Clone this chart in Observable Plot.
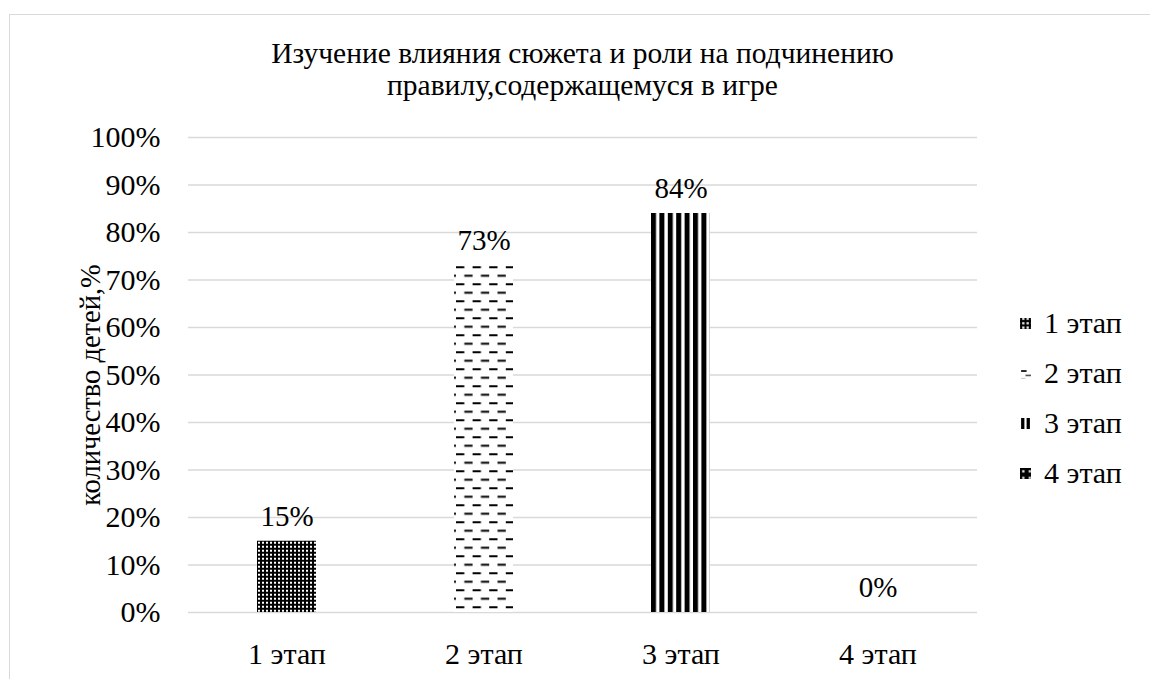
<!DOCTYPE html>
<html>
<head>
<meta charset="utf-8">
<script src="https://cdn.jsdelivr.net/npm/d3@7"></script>
<script src="https://cdn.jsdelivr.net/npm/@observablehq/plot@0.6"></script>
<style>
  html, body { margin: 0; padding: 0; background: #fff; }
  body { width: 1150px; height: 679px; position: relative; overflow: hidden; font-family: "Liberation Serif", "DejaVu Serif", serif; color: #000; }
  #frame { position: absolute; left: 9px; top: 14px; width: 1200px; height: 700px; border: 1.5px solid #d9d9d9; box-sizing: border-box; }
  #title { position: absolute; left: 168px; top: 0; width: 829px; text-align: center; font-size: 29.5px; line-height: 32px; padding-top: 37px; }
  #chart { position: absolute; left: 0; top: 110px; }
  #legend { position: absolute; left: 1020px; top: 0; font-size: 30px; }
  .item { position: absolute; left: 0; white-space: nowrap; display: flex; align-items: center; }
  .item svg { width: 11px; height: 11px; margin-right: 13px; }
</style>
</head>
<body>
<svg width="0" height="0" style="position:absolute">
  <defs>
    <pattern id="p1" patternUnits="userSpaceOnUse" width="4" height="4">
      <rect width="4" height="4" fill="#000"/>
      <rect x="1" y="1" width="2" height="2" fill="#fff"/>
    </pattern>
    <pattern id="p2" patternUnits="userSpaceOnUse" width="16.6" height="17">
      <rect width="16.6" height="17" fill="#fff"/>
      <rect x="0" y="0" width="8.3" height="2" fill="#000"/>
      <rect x="8.3" y="8.5" width="8.3" height="2" fill="#000"/>
    </pattern>
    <pattern id="p3" patternUnits="userSpaceOnUse" width="8.4" height="10">
      <rect width="8.4" height="10" fill="#fff"/>
      <rect x="0" y="0" width="5" height="10" fill="#000"/>
    </pattern>
    <pattern id="p4" patternUnits="userSpaceOnUse" width="6" height="6">
      <rect width="6" height="6" fill="#000"/>
      <rect x="2" y="2" width="2" height="2" fill="#fff"/>
    </pattern>
    <pattern id="l2" patternUnits="userSpaceOnUse" width="10" height="10">
      <rect width="10" height="10" fill="#fff"/>
      <rect x="1" y="2" width="5" height="1.5" fill="#000"/>
      <rect x="5" y="6" width="5" height="1.5" fill="#555"/>
      <rect x="1" y="9" width="4" height="1" fill="#ccc"/>
    </pattern>
    <pattern id="l3" patternUnits="userSpaceOnUse" width="10" height="10">
      <rect width="10" height="10" fill="#fff"/>
      <rect x="1" y="0" width="3" height="10" fill="#000"/>
      <rect x="6" y="0" width="3" height="10" fill="#000"/>
    </pattern>
  </defs>
</svg>
<div id="frame"></div>
<div id="title">Изучение влияния сюжета и роли на подчинению<br>правилу,содержащемуся в игре</div>
<div id="chart"></div>
<div id="legend"></div>
<script>
const categories = ["1 этап", "2 этап", "3 этап", "4 этап"];
const values = [0.15, 0.73, 0.84, 0];
const patterns = ["url(#p1)", "url(#p2)", "url(#p3)", "url(#p4)"];
const legendPatterns = ["url(#p1)", "url(#l2)", "url(#l3)", "url(#p4)"];
const yTicks = [0, 0.1, 0.2, 0.3, 0.4, 0.5, 0.6, 0.7, 0.8, 0.9, 1.0];
const yLabel = "количество детей,%";

const data = categories.map((c, i) => ({category: c, value: values[i], pattern: patterns[i]}));
const pct = d3.format(".0%");

const chart = Plot.plot({
  width: 1150,
  height: 569,
  marginLeft: 188,
  marginRight: 173,
  marginTop: 27,
  marginBottom: 67,
  style: {fontFamily: "'Liberation Serif', 'DejaVu Serif', serif", fontSize: "30px", color: "#000", background: "transparent", overflow: "visible"},
  x: {domain: categories, paddingInner: 0.7, paddingOuter: 0.35, label: null},
  y: {domain: [0, 1], label: null},
  color: {type: "identity"},
  marks: [
    Plot.ruleY(yTicks, {stroke: "#d9d9d9", strokeWidth: 1.5}),
    Plot.barY(data, {x: "category", y: "value", fill: "pattern"}),
    Plot.text(data, {x: "category", y: "value", text: d => pct(d.value), dy: -25, fontSize: 29}),
    Plot.axisX({tickSize: 0, tickPadding: 30, label: null}),
    Plot.axisY({ticks: yTicks, tickFormat: pct, tickSize: 0, tickPadding: 28, label: null}),
    Plot.text([yLabel], {frameAnchor: "left", textAnchor: "middle", lineAnchor: "middle", rotate: -90, dx: -98, dy: 10, fontSize: 28.5, text: d => d})
  ]
});
document.getElementById("chart").appendChild(chart);

// align pattern phase with bar edges
const xs = chart.scale("x"), ys = chart.scale("y");
document.getElementById("p2").setAttribute("y", ys.apply(values[1]) + 1);
document.getElementById("p2").setAttribute("x", xs.apply(categories[1]) + 2);
document.getElementById("p3").setAttribute("x", xs.apply(categories[2]));
document.getElementById("p1").setAttribute("x", xs.apply(categories[0]));
document.getElementById("p1").setAttribute("y", ys.apply(values[0]));

const legend = document.getElementById("legend");
const centers = [323, 373, 423, 473];
categories.forEach((c, i) => {
  const div = document.createElement("div");
  div.className = "item";
  div.style.top = (centers[i] - 16) + "px";
  div.style.height = "32px";
  div.innerHTML = `<svg viewBox="0 0 10 10"><rect width="10" height="10" fill="${legendPatterns[i]}"/></svg><span>${c}</span>`;
  legend.appendChild(div);
});
</script>
</body>
</html>
